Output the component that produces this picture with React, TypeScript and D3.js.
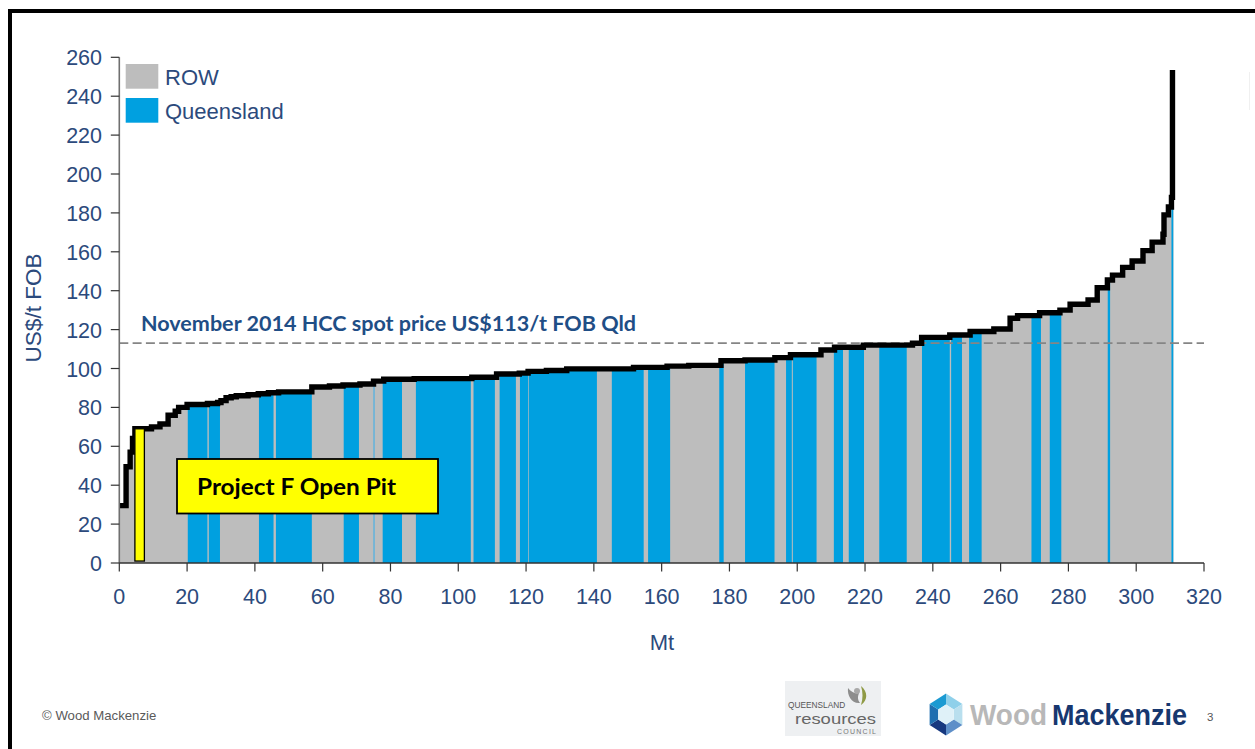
import React from "react";
import * as d3 from "d3";

const WIDTH = 1255;
const HEIGHT = 749;

const xTicks = d3.range(0, 321, 20);
const yTicks = d3.range(0, 261, 20);
const spotPrice = 113;

// Cumulative tonnage (Mt) and cash cost (US$/t FOB) at each step of the cost curve
const curveMt = [
  0, 2, 3.2, 3.9, 4.6, 9.5, 12, 14.4, 16.5, 17.5, 20, 26, 29, 30, 31.5, 33, 34.5, 38, 41, 44, 47,
  56.8, 62, 66, 71, 75, 78, 87, 104, 111.3, 118, 120.6, 126, 132, 151.7, 161.6, 168, 177.5, 184.6,
  193.4, 198, 207, 211, 219.5, 234, 236.7, 245, 251, 258, 262.8, 265, 271.5, 277.5, 280.5, 285.8,
  288.5, 291.5, 293, 296, 298.8, 302, 304.7, 307.9, 308.2, 309.5, 310.4,
];
const curvePrice = [
  29.5, 49.5, 57, 64, 69, 70, 71.5, 76, 78, 80, 81.5, 82, 82.5, 83.5, 85, 85.5, 86, 86.5, 87, 87.5,
  88, 90.5, 91, 91.5, 92, 93.5, 94.5, 94.8, 95.5, 97.2, 97.6, 98.5, 99, 99.8, 100.6, 101.2, 101.6,
  104, 104.4, 105.6, 107.1, 109.5, 110.9, 112, 113, 116, 117.2, 119, 120.3, 125.8, 127.2, 128.7, 130,
  133, 135.2, 141.5, 145.5, 148, 152, 155.3, 160.6, 165, 169, 179, 183, 188,
];
const spikeTop = 253.5;
const curveEnd = 311;

// Queensland mines along the curve: start and end tonnage
const queenslandBands: [number, number][] = [
  [20.2, 26], [26.4, 29.7], [41.2, 45.5], [46.2, 56.8], [66.2, 70.7], [77.7, 83.4], [87.5, 103.7],
  [104.5, 110.8], [112.2, 117], [118.2, 120.6], [120.8, 140.9], [145.3, 154.7], [156, 162.5],
  [177, 178.3], [184.6, 193.3], [196.7, 198.4], [198.7, 205.7], [210.8, 213.5], [215.2, 219.7],
  [224.2, 232.3], [236.8, 245], [245.4, 248.6], [250.7, 254.4], [269.1, 271.9], [274.5, 277.9],
  [291.6, 292.3], [310.4, 311],
];
const paleQueenslandBands: [number, number][] = [[74.9, 75.4]];

const projectBar = { start: 4.6, end: 7.4, low: 1, high: 69 };

const x = d3.scaleLinear().domain([0, 320]).range([119.3, 1204]);
const y = d3.scaleLinear().domain([0, 260]).range([563, 57.3]);

const GREY = "#bdbdbd";
const BLUE = "#00a0e0";
const NAVY = "#2c4a7c";
const AXIS = "#6f6f6f";
const SANS = "'Liberation Sans', Arial, sans-serif";
const CALLOUT = "Lato, 'Open Sans', sans-serif";

const steps: [number, number][] = curveMt.map((m, i) => [m, curvePrice[i]]);
const areaPath =
  d3
    .area<[number, number]>()
    .x((d) => x(d[0]))
    .y0(y(0))
    .y1((d) => y(d[1]))
    .curve(d3.curveStepAfter)([...steps, [curveEnd, curvePrice[curvePrice.length - 1]]]) ?? "";
const linePath =
  d3
    .line<[number, number]>()
    .x((d) => x(d[0]))
    .y((d) => y(d[1]))
    .curve(d3.curveStepAfter)([...steps, [curveMt[curveMt.length - 1] + 0.3, curvePrice[curvePrice.length - 1]], [curveMt[curveMt.length - 1] + 0.3, spikeTop]]) ?? "";

function Band({ band, fill }: { band: [number, number]; fill: string }) {
  return (
    <rect x={x(band[0])} width={x(band[1]) - x(band[0])} y={y(260)} height={y(0) - y(260)} fill={fill} />
  );
}

function QrcLogo() {
  return (
    <g>
      <rect x={785} y={681} width={96} height={55} fill="#eef0f2" />
      <path d="M848,688 C847,696 852,704 860,703 C857,699 858,696 859,693 C855,694 851,692 848,688Z" fill="#8d8d8d" />
      <path d="M861,686 C868,692 868,700 861,705 C863,699 863,692 861,686Z" fill="#8f9a45" />
      <circle cx={857} cy={691} r={3} fill="#a8a8a8" />
      <text x={788} y={707.5} fontFamily={SANS} fontSize={8.3} fill="#555">QUEENSLAND</text>
      <text x={795} y={723.5} fontFamily={SANS} fontSize={15.5} fill="#666" textLength={81} lengthAdjust="spacingAndGlyphs">resources</text>
      <text x={837} y={733.5} fontFamily={SANS} fontSize={7} fill="#777" textLength={39}>COUNCIL</text>
    </g>
  );
}

function WoodMackenzieLogo() {
  const cx = 946;
  const cy = 714.5;
  const p = (a: number, r: number) => `${cx + r * Math.sin(a) * 0.9},${cy - r * Math.cos(a)}`;
  const hex = d3.range(6).map((i) => (i * Math.PI) / 3);
  const shades = ["#8fd0ea", "#b9dfee", "#5e8fc8", "#17387f", "#1f6fb0", "#1b9ad2"];
  return (
    <g>
      {hex.map((a, i) => (
        <polygon
          key={i}
          points={[p(a, 21), p(a + Math.PI / 3, 21), p(a + Math.PI / 3, 10), p(a, 10)].join(" ")}
          fill={shades[i]}
        />
      ))}
      <polygon points={hex.map((a) => p(a, 10)).join(" ")} fill="#dff1f8" />
      <text x={970} y={725} fontFamily={SANS} fontSize={30} fontWeight={700} fill="#b8b8b8" textLength={77} lengthAdjust="spacingAndGlyphs">Wood</text>
      <text x={1052} y={725} fontFamily={SANS} fontSize={30} fontWeight={700} fill="#17376f" textLength={135} lengthAdjust="spacingAndGlyphs">Mackenzie</text>
    </g>
  );
}

export default function App() {
  return (
    <svg
      width={WIDTH}
      height={HEIGHT}
      viewBox={`0 0 ${WIDTH} ${HEIGHT}`}
      style={{ position: "absolute", left: 0, top: 0, display: "block", background: "#fff" }}
    >
      <defs>
        <clipPath id="under-curve">
          <path d={areaPath} />
        </clipPath>
      </defs>

      {/* Slide frame, cut off at the right and bottom edges */}
      <path d={`M10,${HEIGHT} V11 H${WIDTH}`} fill="none" stroke="#000" strokeWidth={4} />
      <line x1={1249.5} x2={1249.5} y1={72} y2={110} stroke="#f0f0f0" strokeWidth={1} />

      {/* Cost curve fill, with Queensland tonnage cut to the same outline */}
      <path d={areaPath} fill={GREY} />
      <g clipPath="url(#under-curve)">
        {queenslandBands.map((b) => (
          <Band key={b[0]} band={b} fill={BLUE} />
        ))}
        {paleQueenslandBands.map((b) => (
          <Band key={b[0]} band={b} fill="#6db4d8" />
        ))}
      </g>

      {/* Spot price reference */}
      <line x1={x(0)} x2={x(320)} y1={y(spotPrice)} y2={y(spotPrice)} stroke="#858585" strokeWidth={1.8} strokeDasharray="9 4.3" />
      <text x={141} y={331} fontFamily={CALLOUT} fontSize={21} fontWeight={700} fill="#1f4e86" textLength={495} lengthAdjust="spacingAndGlyphs">
        November 2014 HCC spot price US$113/t FOB Qld
      </text>

      <path d={linePath} fill="none" stroke="#000" strokeWidth={5.4} strokeLinejoin="miter" />

      {/* Axes */}
      <line x1={x(0)} x2={x(0)} y1={y(260)} y2={y(0)} stroke={AXIS} strokeWidth={1.6} />
      <line x1={x(0)} x2={x(320)} y1={y(0)} y2={y(0)} stroke="#333" strokeWidth={1.4} />
      {yTicks.map((t) => (
        <g key={t}>
          <line x1={x(0) - 8.5} x2={x(0)} y1={y(t)} y2={y(t)} stroke="#333" strokeWidth={1.2} />
          <text x={102} y={y(t) + 8} textAnchor="end" fontFamily={SANS} fontSize={21.5} fill={NAVY}>{t}</text>
        </g>
      ))}
      {xTicks.map((t) => (
        <g key={t}>
          <line x1={x(t)} x2={x(t)} y1={y(0)} y2={y(0) + 8.5} stroke="#333" strokeWidth={1.2} />
          <text x={x(t)} y={604} textAnchor="middle" fontFamily={SANS} fontSize={21.5} fill={NAVY}>{t}</text>
        </g>
      ))}
      <text x={662} y={650} textAnchor="middle" fontFamily={SANS} fontSize={22} fill={NAVY}>Mt</text>
      <text transform="translate(41,308) rotate(-90)" textAnchor="middle" fontFamily={SANS} fontSize={22.5} fill={NAVY}>US$/t FOB</text>

      {/* Legend */}
      <rect x={125.7} y={64} width={32.6} height={24.7} fill={GREY} />
      <text x={165} y={85} fontFamily={SANS} fontSize={22} fill={NAVY}>ROW</text>
      <rect x={125.7} y={98} width={32.6} height={24.7} fill={BLUE} />
      <text x={165} y={119.3} fontFamily={SANS} fontSize={22} fill={NAVY}>Queensland</text>

      {/* Project F position on the curve and its callout */}
      <rect
        x={x(projectBar.start)}
        width={x(projectBar.end) - x(projectBar.start)}
        y={y(projectBar.high)}
        height={y(projectBar.low) - y(projectBar.high)}
        fill="#ffff00"
        stroke="#000"
        strokeWidth={1.3}
      />
      <rect x={177} y={459} width={261} height={54.5} fill="#ffff00" stroke="#000" strokeWidth={1.8} />
      <text x={197} y={494.5} fontFamily={CALLOUT} fontSize={23} fontWeight={700} fill="#000" textLength={199} lengthAdjust="spacingAndGlyphs">
        Project F Open Pit
      </text>

      {/* Footer */}
      <text x={42} y={720} fontFamily={SANS} fontSize={13.2} fill="#5a5a5a">© Wood Mackenzie</text>
      <QrcLogo />
      <WoodMackenzieLogo />
      <text x={1207} y={721} fontFamily={SANS} fontSize={11.5} fill="#555">3</text>
    </svg>
  );
}
